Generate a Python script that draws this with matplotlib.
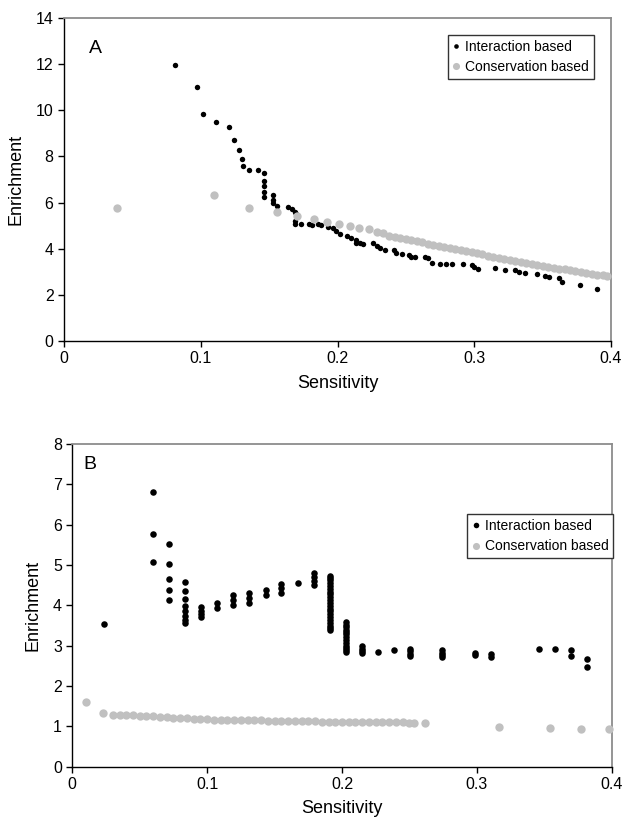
import matplotlib
matplotlib.use("Agg")
import matplotlib.pyplot as plt

plt.rcParams['font.family'] = ['Liberation Sans', 'DejaVu Sans']

# ---------------- Panel A data ----------------
a_int_x = [0.081, 0.097, 0.102, 0.111, 0.121, 0.124, 0.128, 0.130, 0.131, 0.135,
           0.142, 0.146, 0.146, 0.146, 0.146, 0.146, 0.153, 0.153, 0.153, 0.156,
           0.164, 0.167, 0.169, 0.170, 0.169, 0.169, 0.173, 0.179, 0.181, 0.186,
           0.188, 0.193, 0.197, 0.199, 0.202, 0.207, 0.210, 0.2135, 0.2135, 0.2165,
           0.219, 0.226, 0.229, 0.231, 0.235, 0.241, 0.243, 0.247, 0.252, 0.254,
           0.257, 0.264, 0.266, 0.269, 0.275, 0.279, 0.284, 0.292, 0.298, 0.300,
           0.3025, 0.315, 0.3225, 0.330, 0.333, 0.337, 0.346, 0.352, 0.355, 0.362,
           0.364, 0.377, 0.3895]
a_int_y = [11.95, 11.01, 9.85, 9.48, 9.28, 8.70, 8.29, 7.90, 7.60, 7.40,
           7.40, 7.27, 6.95, 6.72, 6.46, 6.25, 6.33, 6.11, 5.97, 5.85,
           5.82, 5.72, 5.60, 5.50, 5.22, 5.06, 5.05, 5.08, 5.03, 5.07,
           5.03, 4.95, 4.88, 4.76, 4.62, 4.57, 4.48, 4.38, 4.23, 4.26,
           4.20, 4.23, 4.12, 4.02, 3.94, 3.94, 3.80, 3.77, 3.73, 3.65,
           3.63, 3.65, 3.58, 3.37, 3.34, 3.34, 3.34, 3.34, 3.29, 3.19,
           3.13, 3.15, 3.08, 3.08, 3.00, 2.93, 2.90, 2.83, 2.76, 2.72,
           2.54, 2.44, 2.27]

a_con_x = [0.0385, 0.110, 0.1355, 0.156, 0.1706, 0.183, 0.192, 0.201, 0.209, 0.216,
           0.223, 0.229, 0.233, 0.238, 0.242, 0.246, 0.250, 0.254, 0.258, 0.262,
           0.266, 0.270, 0.274, 0.278, 0.282, 0.286, 0.290, 0.294, 0.298, 0.302,
           0.306, 0.310, 0.314, 0.318, 0.322, 0.326, 0.330, 0.334, 0.338, 0.342,
           0.346, 0.350, 0.354, 0.358, 0.362, 0.366, 0.370, 0.374, 0.378, 0.382,
           0.386, 0.390, 0.394, 0.397]
a_con_y = [5.78, 6.33, 5.76, 5.59, 5.43, 5.29, 5.16, 5.07, 4.98, 4.88,
           4.84, 4.74, 4.66, 4.56, 4.52, 4.47, 4.43, 4.39, 4.35, 4.29,
           4.22, 4.17, 4.12, 4.08, 4.04, 4.00, 3.96, 3.91, 3.86, 3.80,
           3.75, 3.70, 3.65, 3.61, 3.56, 3.51, 3.47, 3.43, 3.39, 3.34,
           3.29, 3.24, 3.20, 3.16, 3.13, 3.10, 3.06, 3.02, 2.99, 2.95,
           2.92, 2.88, 2.85, 2.83]

# ---------------- Panel B data ----------------
b_int_x = ([0.0238] + [0.0598] * 3 + [0.0714] * 5 + [0.0833] * 8 + [0.0955] * 4 +
           [0.1073] * 2 + [0.1192] * 3 + [0.1311] * 3 + [0.1433] * 2 + [0.155] * 3 +
           [0.1673] + [0.1792] * 4 + [0.1911] * 21 + [0.2028] * 13 + [0.2147] * 4 +
           [0.227] + [0.2387] + [0.2503] * 4 + [0.2744] * 4 + [0.2985] * 2 +
           [0.3103] * 2 + [0.346] + [0.358] + [0.3698] * 2 + [0.3817] * 2)
b_int_y = ([3.54] +
           [6.80, 5.76, 5.08] +
           [5.52, 5.02, 4.65, 4.37, 4.13] +
           [4.59, 4.35, 4.16, 3.99, 3.86, 3.73, 3.64, 3.56] +
           [3.95, 3.87, 3.79, 3.70] +
           [4.05, 3.93] +
           [4.25, 4.13, 4.00] +
           [4.30, 4.19, 4.07] +
           [4.38, 4.26] +
           [4.53, 4.42, 4.30] +
           [4.55] +
           [4.79, 4.71, 4.61, 4.50] +
           [4.74, 4.68, 4.62, 4.55, 4.48, 4.41, 4.34, 4.27, 4.20, 4.13, 4.06,
            3.99, 3.92, 3.85, 3.78, 3.71, 3.64, 3.57, 3.50, 3.44, 3.39] +
           [3.58, 3.52, 3.46, 3.40, 3.34, 3.28, 3.21, 3.14, 3.07, 3.00, 2.94, 2.89, 2.84] +
           [2.99, 2.93, 2.87, 2.82] +
           [2.85] +
           [2.89] +
           [2.93, 2.86, 2.80, 2.74] +
           [2.89, 2.83, 2.77, 2.71] +
           [2.83, 2.77] +
           [2.79, 2.72] +
           [2.91] +
           [2.91] +
           [2.89, 2.75] +
           [2.67, 2.48])

b_con_x = [0.0102, 0.0231, 0.030, 0.0355, 0.040, 0.045, 0.050, 0.055, 0.060, 0.065,
           0.070, 0.075, 0.080, 0.085, 0.090, 0.095, 0.100, 0.105, 0.110, 0.115,
           0.120, 0.125, 0.130, 0.135, 0.140, 0.145, 0.150, 0.155, 0.160, 0.165,
           0.170, 0.175, 0.180, 0.185, 0.190, 0.195, 0.200, 0.205, 0.210, 0.215,
           0.220, 0.225, 0.230, 0.235, 0.240, 0.245, 0.250, 0.2534, 0.2616,
           0.3168, 0.354, 0.377, 0.3978]
b_con_y = [1.61, 1.34, 1.29, 1.28, 1.27, 1.27, 1.26, 1.25, 1.25, 1.24,
           1.23, 1.22, 1.21, 1.20, 1.19, 1.19, 1.18, 1.17, 1.17, 1.16,
           1.16, 1.16, 1.15, 1.15, 1.15, 1.14, 1.14, 1.14, 1.14, 1.13,
           1.13, 1.13, 1.13, 1.12, 1.12, 1.12, 1.12, 1.12, 1.11, 1.11,
           1.11, 1.10, 1.10, 1.10, 1.10, 1.10, 1.09, 1.09, 1.09,
           0.99, 0.95, 0.94, 0.93]

x_ticks = [0, 0.1, 0.2, 0.3, 0.4]
x_tick_labels = ["0", "0.1", "0.2", "0.3", "0.4"]
a_y_ticks = [0, 2, 4, 6, 8, 10, 12, 14]
b_y_ticks = [0, 1, 2, 3, 4, 5, 6, 7, 8]
legend_labels = ["Interaction based", "Conservation based"]

BLACK = "#000000"
GRAY = "#c0c0c0"

fig = plt.figure(figsize=(6.25, 8.27), dpi=100)

def style_axes(ax, yticks, ymax):
    ax.set_xlim(0, 0.4)
    ax.set_ylim(0, ymax)
    ax.set_xticks(x_ticks)
    ax.set_xticklabels(x_tick_labels)
    ax.set_yticks(yticks)
    ax.set_yticklabels([str(t) for t in yticks])
    ax.tick_params(direction="out", length=4, width=1, labelsize=11.5, colors="black")
    for s in ["left", "bottom"]:
        ax.spines[s].set_color("black")
        ax.spines[s].set_linewidth(1.0)
    for s in ["top", "right"]:
        ax.spines[s].set_color("#8c8c8c")
        ax.spines[s].set_linewidth(1.3)
    ax.set_xlabel("Sensitivity", fontsize=13, labelpad=6)
    ax.set_ylabel("Enrichment", fontsize=13, labelpad=8)

def add_legend(ax, anchor):
    leg = ax.legend(loc="upper right", bbox_to_anchor=anchor, fontsize=10,
                    frameon=True, fancybox=False, edgecolor="#333333", framealpha=1,
                    handlelength=0.5, handletextpad=0.4, borderpad=0.35, labelspacing=0.45,
                    borderaxespad=0, markerscale=0.85)
    leg.get_frame().set_linewidth(1.0)
    return leg

# Panel A
axA = fig.add_axes([0.1024, 0.5877, 0.8752, 0.3905])
axA.plot(a_int_x, a_int_y, linestyle="none", marker="o", markersize=3.9,
         color=BLACK, markeredgewidth=0, label=legend_labels[0], clip_on=False, zorder=3)
axA.plot(a_con_x, a_con_y, linestyle="none", marker="o", markersize=6.0,
         color=GRAY, markeredgewidth=0, label=legend_labels[1], clip_on=False, zorder=4)
style_axes(axA, a_y_ticks, 14)
axA.text(0.046, 0.892, "A", transform=axA.transAxes, fontsize=14, ha="left", va="baseline")
add_legend(axA, (0.969, 0.948))

# Panel B
axB = fig.add_axes([0.1157, 0.0729, 0.8630, 0.3902])
axB.plot(b_int_x, b_int_y, linestyle="none", marker="o", markersize=4.7,
         color=BLACK, markeredgewidth=0, label=legend_labels[0], clip_on=False, zorder=3)
axB.plot(b_con_x, b_con_y, linestyle="none", marker="o", markersize=6.0,
         color=GRAY, markeredgewidth=0, label=legend_labels[1], clip_on=False, zorder=4)
style_axes(axB, b_y_ticks, 8)
axB.text(0.02, 0.922, "B", transform=axB.transAxes, fontsize=14, ha="left", va="baseline")
add_legend(axB, (1.003, 0.782))

fig.savefig("out.png", dpi=100)
